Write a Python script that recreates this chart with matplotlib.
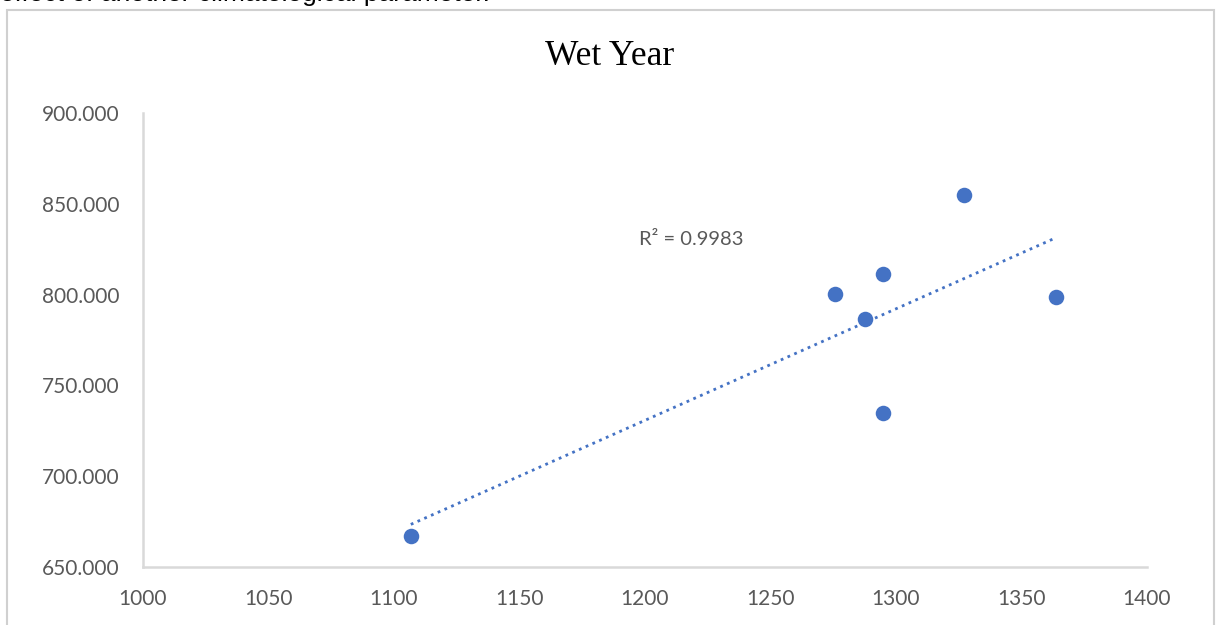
import matplotlib.pyplot as plt
import numpy as np
from matplotlib.patches import Rectangle

# data
rain = [1106.8, 1275.8, 1294.8, 1287.6, 1327.2, 1363.9, 1294.8]
value = [666.9, 800.5, 811.2, 786.6, 855.0, 798.5, 734.6]
x_ticks = [1000, 1050, 1100, 1150, 1200, 1250, 1300, 1350, 1400]
y_ticks = [650, 700, 750, 800, 850, 900]
r2_label = "R² = 0.9983"

blue = "#4472C4"
grey_txt = "#595959"
grey_line = "#D9D9D9"

fig = plt.figure(figsize=(12.2, 6.25), dpi=100)
ax = fig.add_axes([0.117, 0.0928, 0.823, 0.7264])

# chart frame (cut at bottom) and the clipped caption above it
fig.patches.append(Rectangle((7 / 1220, -0.05), 1207 / 1220, 1.05 - 10 / 625,
                             transform=fig.transFigure, fill=False,
                             edgecolor="#D0D0D0", lw=1.5))
fig.text(0.0, 1 - 0.5 / 625, "effect of another climatological parameter.",
         fontsize=19, family="Liberation Sans", color="black",
         ha="left", va="baseline")

ax.scatter(rain, value, s=125, color=blue, zorder=3, linewidths=0)

# linear trendline over the data range
coef = np.polyfit(rain, value, 1)
xs = np.array([min(rain), max(rain)])
ax.plot(xs, np.polyval(coef, xs), color=blue, lw=2.0, ls=":", zorder=2)

ax.text(1218.6, 830.2, r2_label, fontsize=14.5, family="Lato", color=grey_txt,
        ha="center", va="center")

ax.set_xlim(1000, 1400)
ax.set_ylim(650, 900)
ax.set_xticks(x_ticks)
ax.set_yticks(y_ticks)
ax.set_xticklabels([str(t) for t in x_ticks])
ax.set_yticklabels([f"{t:.3f}" for t in y_ticks])
ax.tick_params(length=0, labelsize=15, labelcolor=grey_txt)
ax.tick_params(axis="y", pad=17)
ax.tick_params(axis="x", pad=16)
for lbl in ax.get_xticklabels() + ax.get_yticklabels():
    lbl.set_family("Lato")

for side in ["top", "right"]:
    ax.spines[side].set_visible(False)
for side in ["left", "bottom"]:
    ax.spines[side].set_color(grey_line)
    ax.spines[side].set_linewidth(1.8)

fig.text(0.5, 1 - 65 / 625, "Wet Year", fontsize=25.5, family="Liberation Serif",
         color="black", ha="center", va="baseline")

fig.savefig("out.png", dpi=100)
